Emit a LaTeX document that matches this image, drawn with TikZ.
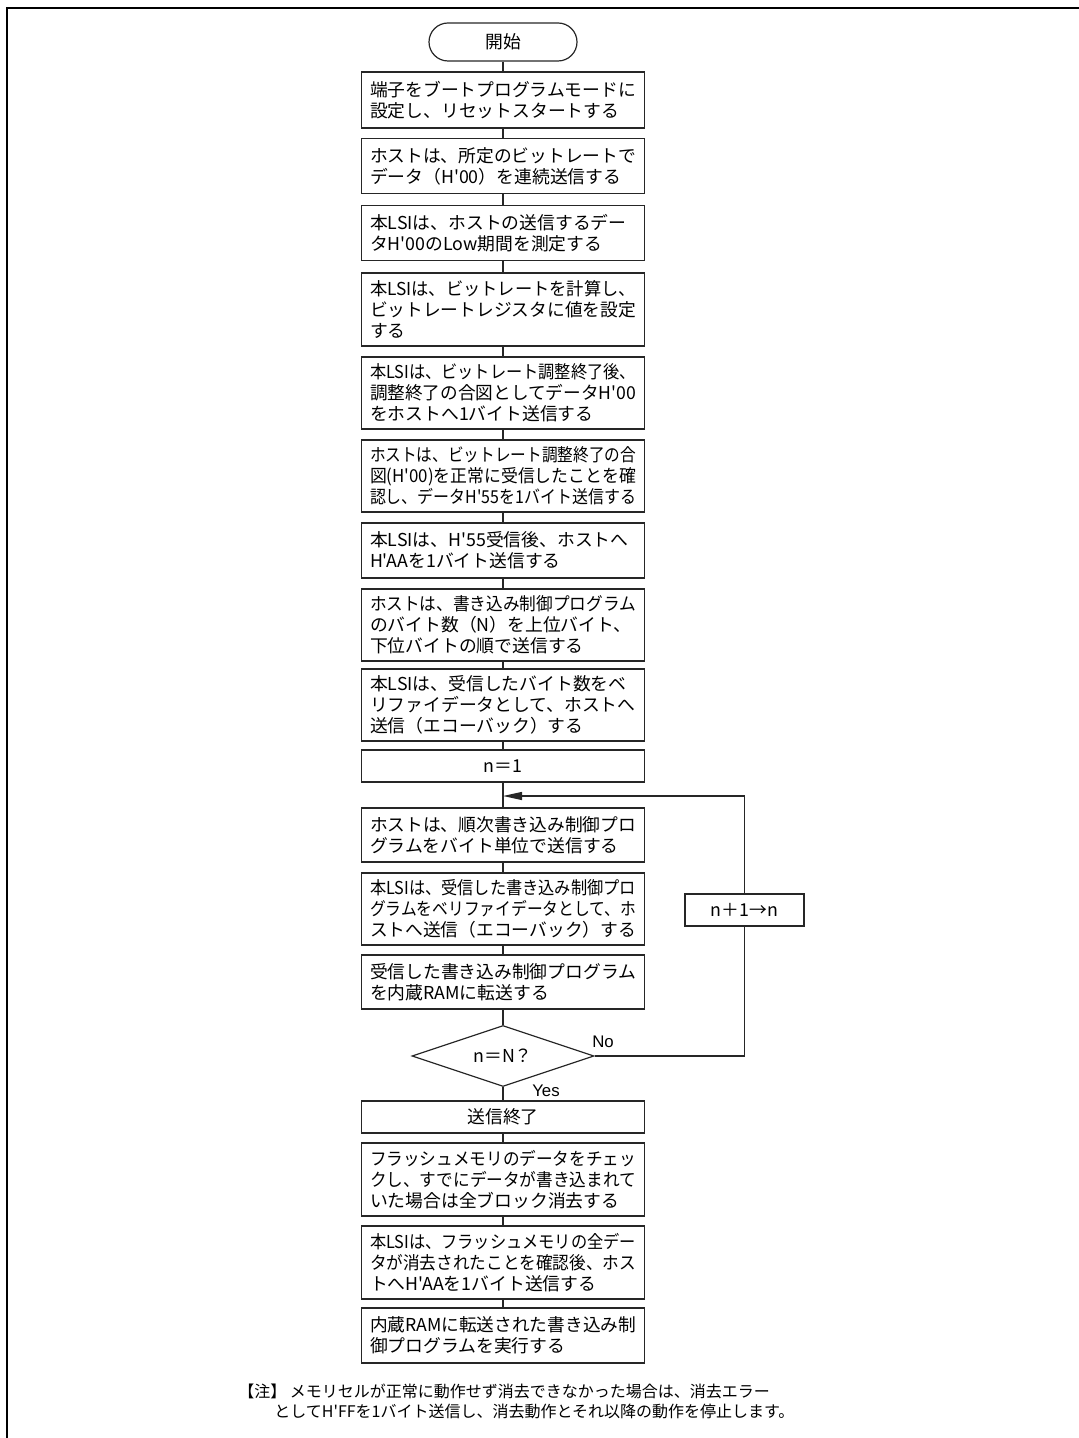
\documentclass[tikz,border=0pt]{standalone}
\usepackage{fontspec}
\usetikzlibrary{arrows.meta,shapes.geometric}
\newfontfamily\jp{Noto Sans CJK JP}
\newfontfamily\lat{Liberation Sans}
\newsavebox\fitbox
\newlength\fitw
\setlength\fitw{133pt}
\newcommand\fl[1]{\sbox\fitbox{#1}\ifdim\wd\fitbox>\fitw\resizebox{\fitw}{\ht\fitbox}{\usebox\fitbox}\else\usebox\fitbox\fi}
\tikzset{
  box/.style={draw=black!85, line width=0.6pt, rectangle, text width=133pt,
    inner xsep=4.25pt, inner ysep=0pt, align=left,
    font=\jp\fontsize{8.9pt}{10.5pt}\selectfont, minimum height=0.5pt*#1},
  cbox/.style={box=#1, align=center},
  term/.style={draw=black!85, line width=0.6pt, rectangle, rounded corners=9.5pt,
    minimum width=74pt, minimum height=19pt, inner sep=0pt,
    font=\jp\fontsize{8.9pt}{10.5pt}\selectfont},
  dec/.style={draw=black!85, line width=0.6pt, diamond, aspect=2.98,
    minimum width=91pt, minimum height=30.5pt, inner sep=0pt,
    font=\jp\fontsize{8.9pt}{10.5pt}\selectfont},
  incbox/.style={draw=black!85, line width=0.6pt, rectangle,
    minimum width=59.5pt, minimum height=16pt, inner sep=0pt,
    font=\jp\fontsize{8.9pt}{10.5pt}\selectfont},
  lbl/.style={inner sep=0pt, font=\lat\fontsize{8.4pt}{10pt}\selectfont},
  conn/.style={draw=black!85, line width=0.6pt},
  frame/.style={line width=1pt, draw=black},
}
\begin{document}
\begin{tikzpicture}[x=0.5pt, y=-0.5pt]
\useasboundingbox (0,0) rectangle (1078,1438);
\draw[frame] (6.5,1440) -- (6.5,8) -- (1080,8);

\node[term] (t) at (503,42) {開始};
\node[box=56] (b1) at (503,100) {\fl{端子をブートプログラムモードに}\\\fl{設定し、リセットスタートする}};
\node[box=55] (b2) at (503,166) {\fl{ホストは、所定のビットレートで}\\\fl{データ（H'00）を連続送信する}};
\node[box=55] (b3) at (503,233) {\fl{本LSIは、ホストの送信するデー}\\\fl{タH'00のLow期間を測定する}};
\node[box=73] (b4) at (503,309.5) {\fl{本LSIは、ビットレートを計算し、}\\\fl{ビットレートレジスタに値を設定}\\\fl{する}};
\node[box=72] (b5) at (503,393) {\fl{本LSIは、ビットレート調整終了後、}\\\fl{調整終了の合図としてデータH'00}\\\fl{をホストへ1バイト送信する}};
\node[box=72] (b6) at (503,476) {\fl{ホストは、ビットレート調整終了の合}\\\fl{図(H'00)を正常に受信したことを確}\\\fl{認し、データH'55を1バイト送信する}};
\node[box=55] (b7) at (503,550.5) {\fl{本LSIは、H'55受信後、ホストへ}\\\fl{H'AAを1バイト送信する}};
\node[box=72] (b8) at (503,625) {\fl{ホストは、書き込み制御プログラム}\\\fl{のバイト数（N）を上位バイト、}\\\fl{下位バイトの順で送信する}};
\node[box=72] (b9) at (503,705) {\fl{本LSIは、受信したバイト数をベ}\\\fl{リファイデータとして、ホストへ}\\\fl{送信（エコーバック）する}};
\node[cbox=32] (n1) at (503,766) {n＝1};
\coordinate (join) at (503,796);
\node[box=54] (b10) at (503,835) {\fl{ホストは、順次書き込み制御プロ}\\\fl{グラムをバイト単位で送信する}};
\node[box=72] (b11) at (503,909) {\fl{本LSIは、受信した書き込み制御プロ}\\\fl{グラムをベリファイデータとして、ホ}\\\fl{ストへ送信（エコーバック）する}};
\node[box=54] (b12) at (503,982) {\fl{受信した書き込み制御プログラム}\\\fl{を内蔵RAMに転送する}};
\node[dec] (dia) at (503,1056) {n＝N？};
\node[incbox] (inc) at (744.5,910) {n＋1→n};
\coordinate (lr) at (744.5,1056);
\coordinate (ur) at (744.5,796);
\node[lbl] (no) at (603,1042) {No};
\node[lbl] (yes) at (546,1091) {Yes};
\node[cbox=32] (fin) at (503,1117) {送信終了};
\node[box=73] (b13) at (503,1179.5) {\fl{フラッシュメモリのデータをチェッ}\\\fl{クし、すでにデータが書き込まれて}\\\fl{いた場合は全ブロック消去する}};
\node[box=73] (b14) at (503,1262.5) {\fl{本LSIは、フラッシュメモリの全デー}\\\fl{タが消去されたことを確認後、ホス}\\\fl{トへH'AAを1バイト送信する}};
\node[box=55] (b15) at (503,1335.5) {\fl{内蔵RAMに転送された書き込み制}\\\fl{御プログラムを実行する}};
\node[anchor=west, align=left, inner sep=0pt, font=\jp\fontsize{8pt}{10pt}\selectfont] (note) at (238,1401)
  {【注】 メモリセルが正常に動作せず消去できなかった場合は、消去エラー\\\hspace*{18pt}としてH'FFを1バイト送信し、消去動作とそれ以降の動作を停止します。};

\draw[conn] (t.south) -- (b1.north);
\draw[conn] (b1.south) -- (b2.north);
\draw[conn] (b2.south) -- (b3.north);
\draw[conn] (b3.south) -- (b4.north);
\draw[conn] (b4.south) -- (b5.north);
\draw[conn] (b5.south) -- (b6.north);
\draw[conn] (b6.south) -- (b7.north);
\draw[conn] (b7.south) -- (b8.north);
\draw[conn] (b8.south) -- (b9.north);
\draw[conn] (b9.south) -- (n1.north);
\draw[conn] (n1.south) -- (join) -- (b10.north);
\draw[conn] (b10.south) -- (b11.north);
\draw[conn] (b11.south) -- (b12.north);
\draw[conn] (b12.south) -- (dia.north);
\draw[conn] (dia.south) -- (fin.north);
\draw[conn] (fin.south) -- (b13.north);
\draw[conn] (b13.south) -- (b14.north);
\draw[conn] (b14.south) -- (b15.north);
\draw[conn] (dia.east) -- (lr) -- (inc.south);
\draw[conn, -{Triangle[length=9.5pt,width=4pt]}] (inc.north) -- (ur) -- (join);
\end{tikzpicture}
\end{document}
